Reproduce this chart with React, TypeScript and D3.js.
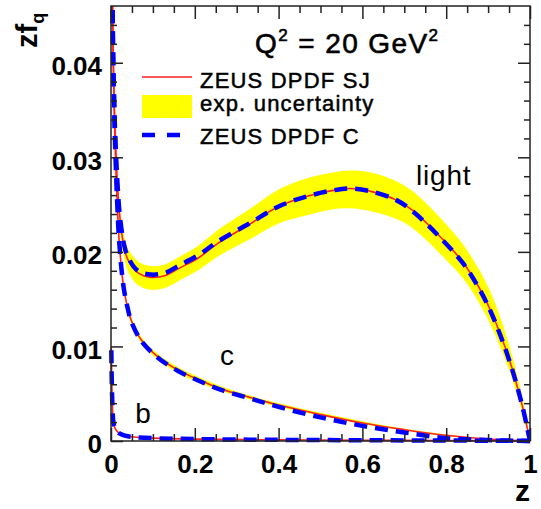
import React, { useEffect, useRef } from 'react';
import * as d3 from 'd3';

// light quark: z grid, SJ fit, uncertainty band, C fit
const zLight = [0.003, 0.005, 0.0075, 0.01, 0.015, 0.02, 0.025, 0.03, 0.04, 0.064, 0.095, 0.13, 0.16, 0.21, 0.255, 0.33, 0.4, 0.47, 0.53, 0.57, 0.62, 0.68, 0.72, 0.79, 0.84, 0.88, 0.91, 0.95, 0.98, 1.0];
const lightSJ = [0.050, 0.041, 0.036, 0.0325, 0.0275, 0.0242, 0.0222, 0.0208, 0.0192, 0.0178, 0.0173, 0.0175, 0.0182, 0.0194, 0.0209, 0.0229, 0.0248, 0.0259, 0.0265, 0.0267, 0.0264, 0.0255, 0.0244, 0.0214, 0.0189, 0.0161, 0.0134, 0.0087, 0.0040, 0.0];
const lightLo = [0.049, 0.0402, 0.0352, 0.0317, 0.0266, 0.0232, 0.0211, 0.0197, 0.0180, 0.0165, 0.0160, 0.0162, 0.0169, 0.0181, 0.0195, 0.0213, 0.0230, 0.0239, 0.0245, 0.0246, 0.0243, 0.0235, 0.0225, 0.0196, 0.0172, 0.0145, 0.0119, 0.0075, 0.0033, 0.0];
const lightUp = [0.051, 0.0418, 0.0368, 0.0333, 0.0284, 0.0252, 0.0233, 0.0219, 0.0204, 0.0190, 0.0185, 0.0187, 0.0194, 0.0207, 0.0223, 0.0245, 0.0266, 0.0278, 0.0284, 0.0286, 0.0284, 0.0275, 0.0264, 0.0234, 0.0208, 0.0180, 0.0153, 0.0102, 0.0049, 0.0];
const lightC = [0.050, 0.041, 0.036, 0.0325, 0.0276, 0.0243, 0.0224, 0.0210, 0.0195, 0.0180, 0.0176, 0.0178, 0.0185, 0.0197, 0.0211, 0.0230, 0.0248, 0.0259, 0.0265, 0.0267, 0.0264, 0.0255, 0.0243, 0.0213, 0.0188, 0.0160, 0.0133, 0.0086, 0.0040, 0.0];

// charm
const zCharm = [0.003, 0.005, 0.0075, 0.01, 0.015, 0.02, 0.03, 0.04, 0.048, 0.072, 0.112, 0.16, 0.208, 0.263, 0.332, 0.4, 0.5, 0.6, 0.7, 0.8, 0.9, 1.0];
const charmSJ = [0.050, 0.041, 0.0355, 0.031, 0.025, 0.0208, 0.0163, 0.0140, 0.0128, 0.0107, 0.0089, 0.0075, 0.0065, 0.0055, 0.0046, 0.0038, 0.0028, 0.0019, 0.0012, 0.0006, 0.0002, 0.0];
const charmLo = [0.0492, 0.0403, 0.0349, 0.0305, 0.0246, 0.0204, 0.0160, 0.0137, 0.0125, 0.0104, 0.0086, 0.0072, 0.0062, 0.0053, 0.0044, 0.0036, 0.0027, 0.0018, 0.0011, 0.0005, 0.0002, 0.0];
const charmUp = [0.0508, 0.0417, 0.0361, 0.0315, 0.0254, 0.0212, 0.0166, 0.0143, 0.0131, 0.0110, 0.0092, 0.0078, 0.0068, 0.0058, 0.0048, 0.0040, 0.0030, 0.0021, 0.0013, 0.0007, 0.0002, 0.0];
const charmC = [0.050, 0.041, 0.0355, 0.031, 0.025, 0.0208, 0.0163, 0.0140, 0.0127, 0.0106, 0.0088, 0.0074, 0.0064, 0.0054, 0.0045, 0.0036, 0.0025, 0.0016, 0.0009, 0.0003, 0.0001, 0.0];

// bottom
const zBottom = [0.0008, 0.002, 0.004, 0.006, 0.01, 0.02, 0.04, 0.06, 0.1, 0.2, 0.4, 0.6, 0.8, 0.95, 1.0];
const bottomSJ = [0.0098, 0.0060, 0.0030, 0.0019, 0.0013, 0.0008, 0.0005, 0.0004, 0.0003, 0.0002, 0.00012, 0.00008, 0.00005, 0.00002, 0.0];
const bottomC = [0.0096, 0.0059, 0.0030, 0.0019, 0.0013, 0.0008, 0.0005, 0.0004, 0.0003, 0.0002, 0.00012, 0.00008, 0.00005, 0.00002, 0.0];

const xMajor = [0, 0.2, 0.4, 0.6, 0.8, 1];
const xMinor = [0.05, 0.1, 0.15, 0.25, 0.3, 0.35, 0.45, 0.5, 0.55, 0.65, 0.7, 0.75, 0.85, 0.9, 0.95];
const yMajor = [0, 0.01, 0.02, 0.03, 0.04];
const yMinor = [0.002, 0.004, 0.006, 0.008, 0.012, 0.014, 0.016, 0.018, 0.022, 0.024, 0.026, 0.028, 0.032, 0.034, 0.036, 0.038, 0.042, 0.044];
const legendLabels = ['ZEUS DPDF SJ', 'exp. uncertainty', 'ZEUS DPDF C'];

const FONT = '"Liberation Sans", Arial, Helvetica, sans-serif';

export default function App() {
  const ref = useRef<SVGSVGElement>(null);

  useEffect(() => {
    const svg = d3.select(ref.current);
    svg.selectAll('*').remove();

    const width = 541;
    const height = 509;
    const margin = { top: 6, right: 11, bottom: 68, left: 111 };

    const x = d3.scaleLinear().domain([0, 1]).range([margin.left, width - margin.right]);
    const y = d3.scaleLinear().domain([0, 0.046]).range([height - margin.bottom, margin.top]);

    svg.append('rect').attr('width', width).attr('height', height).attr('fill', 'white');

    svg.append('clipPath').attr('id', 'plotclip')
      .append('rect')
      .attr('x', margin.left - 3)
      .attr('y', margin.top)
      .attr('width', width - margin.right - margin.left + 3)
      .attr('height', height - margin.bottom - margin.top + 3);

    const plot = svg.append('g').attr('clip-path', 'url(#plotclip)');

    const smooth = d3.curveCatmullRom.alpha(0.5);

    const band = (zs: number[], lo: number[], up: number[]) =>
      d3.area<number>()
        .x((_, i) => x(zs[i]))
        .y0((_, i) => y(lo[i]))
        .y1((_, i) => y(up[i]))
        .curve(smooth)(zs);

    const curve = (zs: number[], vs: number[]) =>
      d3.line<number>()
        .x((_, i) => x(zs[i]))
        .y((_, i) => y(vs[i]))
        .curve(smooth)(zs);

    // uncertainty bands
    plot.append('path').attr('d', band(zLight, lightLo, lightUp)).attr('fill', '#ffff00');
    plot.append('path').attr('d', band(zCharm, charmLo, charmUp)).attr('fill', '#ffff00');

    // SJ fit
    [[zLight, lightSJ], [zCharm, charmSJ], [zBottom, bottomSJ]].forEach(([zs, vs]) => {
      plot.append('path')
        .attr('d', curve(zs, vs))
        .attr('fill', 'none')
        .attr('stroke', '#ff2020')
        .attr('stroke-width', 1.6);
    });

    // C fit
    [[zLight, lightC], [zCharm, charmC], [zBottom, bottomC]].forEach(([zs, vs]) => {
      plot.append('path')
        .attr('d', curve(zs, vs))
        .attr('fill', 'none')
        .attr('stroke', '#0000ff')
        .attr('stroke-width', 4.5)
        .attr('stroke-dasharray', '13,8');
    });

    // frame
    svg.append('rect')
      .attr('x', margin.left)
      .attr('y', margin.top)
      .attr('width', width - margin.right - margin.left)
      .attr('height', height - margin.bottom - margin.top)
      .attr('fill', 'none')
      .attr('stroke', '#222')
      .attr('stroke-width', 1.5);

    const bottomY = height - margin.bottom;
    const rightX = width - margin.right;

    const tickStyle = (g: any) => {
      g.select('.domain').remove();
      g.selectAll('line').attr('stroke', '#222').attr('stroke-width', 1.5);
    };

    // x ticks bottom/top
    svg.append('g').attr('transform', `translate(0,${bottomY})`)
      .call(d3.axisBottom(x).tickValues(xMinor).tickSize(-7).tickFormat(() => ''))
      .call(tickStyle);
    svg.append('g').attr('transform', `translate(0,${margin.top})`)
      .call(d3.axisTop(x).tickValues(xMinor).tickSize(-7).tickFormat(() => ''))
      .call(tickStyle);
    svg.append('g').attr('transform', `translate(0,${margin.top})`)
      .call(d3.axisTop(x).tickValues(xMajor).tickSize(-13).tickFormat(() => ''))
      .call(tickStyle);
    const xAxis = svg.append('g').attr('transform', `translate(0,${bottomY})`)
      .call(d3.axisBottom(x).tickValues(xMajor).tickSize(-13).tickPadding(14).tickFormat((d) => String(d)))
      .call(tickStyle);
    xAxis.selectAll('text')
      .attr('font-family', FONT)
      .attr('font-size', 26)
      .attr('font-weight', 'bold')
      .attr('fill', '#000');

    // y ticks left/right
    svg.append('g').attr('transform', `translate(${margin.left},0)`)
      .call(d3.axisLeft(y).tickValues(yMinor).tickSize(-6).tickFormat(() => ''))
      .call(tickStyle);
    svg.append('g').attr('transform', `translate(${rightX},0)`)
      .call(d3.axisRight(y).tickValues(yMinor).tickSize(-6).tickFormat(() => ''))
      .call(tickStyle);
    svg.append('g').attr('transform', `translate(${rightX},0)`)
      .call(d3.axisRight(y).tickValues(yMajor).tickSize(-12).tickFormat(() => ''))
      .call(tickStyle);
    const yAxis = svg.append('g').attr('transform', `translate(${margin.left},0)`)
      .call(d3.axisLeft(y).tickValues(yMajor).tickSize(-12).tickPadding(9).tickFormat((d) => String(d)))
      .call(tickStyle);
    yAxis.selectAll('text')
      .attr('font-family', FONT)
      .attr('font-size', 26)
      .attr('font-weight', 'bold')
      .attr('dy', '0.45em')
      .attr('fill', '#000');

    // axis titles
    svg.append('text')
      .attr('x', rightX)
      .attr('y', 501)
      .attr('text-anchor', 'end')
      .attr('font-family', FONT)
      .attr('font-size', 30)
      .attr('font-weight', 'bold')
      .text('z');

    const yt = svg.append('text')
      .attr('transform', 'translate(37,48) rotate(-90)')
      .attr('font-family', FONT)
      .attr('font-size', 29)
      .attr('font-weight', 'bold');
    yt.append('tspan').text('zf');
    yt.append('tspan').attr('font-size', 18).attr('dy', 7).text('q');

    // title
    const title = svg.append('text')
      .attr('x', 255)
      .attr('y', 53)
      .attr('font-family', FONT)
      .attr('font-size', 28)
      .attr('letter-spacing', 1.4)
      .attr('stroke', '#000')
      .attr('stroke-width', 0.6);
    title.append('tspan').text('Q');
    title.append('tspan').attr('font-size', 17).attr('dy', -12).text('2');
    title.append('tspan').attr('dy', 12).text(' = 20 GeV');
    title.append('tspan').attr('font-size', 17).attr('dy', -12).text('2');

    // legend
    const lx0 = 142;
    const lx1 = 192;
    svg.append('line').attr('x1', lx0).attr('x2', lx1).attr('y1', 77).attr('y2', 77)
      .attr('stroke', '#ff2020').attr('stroke-width', 1.6);
    svg.append('rect').attr('x', lx0).attr('y', 95).attr('width', lx1 - lx0).attr('height', 23)
      .attr('fill', '#ffff00');
    svg.append('line').attr('x1', lx0).attr('x2', 182).attr('y1', 135).attr('y2', 135)
      .attr('stroke', '#0000ff').attr('stroke-width', 4.5).attr('stroke-dasharray', '13,12');

    svg.selectAll('text.legend')
      .data(legendLabels)
      .enter()
      .append('text')
      .attr('class', 'legend')
      .attr('x', 200)
      .attr('y', (_, i) => [88, 111, 144][i])
      .attr('font-family', FONT)
      .attr('font-size', 22)
      .attr('letter-spacing', 1.2)
      .attr('stroke', '#000')
      .attr('stroke-width', 0.5)
      .text((d) => d);

    // curve labels
    const labels = [
      { t: 'light', x: 0.728, y: 185 },
      { t: 'c', x: 0.26, y: 365 },
      { t: 'b', x: 0.058, y: 423 },
    ];
    labels.forEach((l) => {
      svg.append('text')
        .attr('x', x(l.x))
        .attr('y', l.y)
        .attr('font-family', FONT)
        .attr('font-size', 28)
        .attr('letter-spacing', 0.8)
        .text(l.t);
    });
  }, []);

  return (
    <svg
      ref={ref}
      width={541}
      height={509}
      style={{ position: 'absolute', left: 0, top: 0 }}
    />
  );
}
